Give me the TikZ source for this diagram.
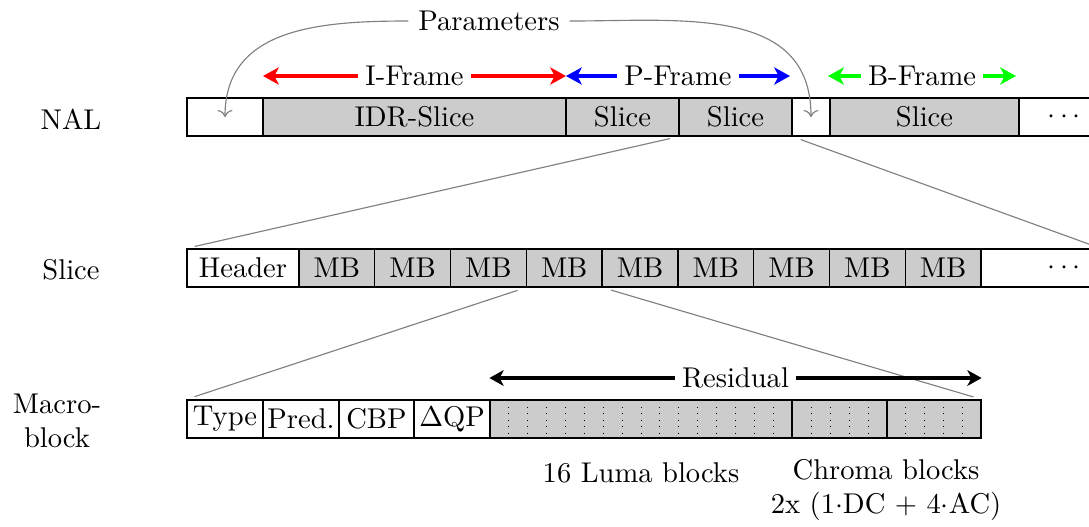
\documentclass[tikz,border=0pt]{standalone}
\usetikzlibrary{arrows.meta}
\definecolor{cellgray}{HTML}{CCCCCC}
\definecolor{bgreen}{HTML}{00FF00}
\newcommand\mycell[6]{\node[#5, minimum width={(#3-#2)*0.35pt}] (#1) at ({(#2+#3)/2},#4) {#6};}
\begin{document}
\begin{tikzpicture}[x=0.35pt,y=-0.35pt,
  cell/.style={draw=black, line width=0.45pt, inner sep=0pt, minimum height={38*0.35pt}},
  full/.style={cell, fill=cellgray},
  empty/.style={cell, fill=white},
  zoomline/.style={draw=gray, line width=0.4pt, shorten <=3pt, shorten >=3pt},
  paramarrow/.style={draw=gray, line width=0.4pt, ->},
  framearrow/.style={line width=1.5pt, {Stealth[length=5.5pt,width=6pt,inset=1.5pt]}-{Stealth[length=5.5pt,width=6pt,inset=1.5pt]}},
  resarrow/.style={line width=1.2pt, {Stealth[length=5pt,width=5.5pt,inset=1.4pt]}-{Stealth[length=5pt,width=5.5pt,inset=1.4pt]}},
  lbl/.style={fill=white, text=black, inner sep=2.5pt},
  div/.style={draw=black, line width=0.3pt, dotted},
  solid div/.style={draw=black, line width=0.45pt},
  rowlabel/.style={align=center},
]
\useasboundingbox (0,0) rectangle (1089,526);
\clip (0,0) rectangle (1089,526);

% row labels
\node[rowlabel] (lnal) at (71,119) {NAL};
\node[rowlabel] (lslice) at (71,270) {Slice};
\node[rowlabel] (lmb) at (57,421) {Macro-\\block};

% NAL row
\mycell{nal0}{187}{263}{117}{empty}{}
\mycell{idr}{263}{566}{117}{full}{IDR-Slice}
\mycell{ps1}{566}{679}{117}{full}{Slice}
\mycell{ps2}{679}{792}{117}{full}{Slice}
\mycell{nal4}{792}{830}{117}{empty}{}
\mycell{bs}{830}{1019}{117}{full}{Slice}
\mycell{naldots}{1019}{1100}{117}{empty}{}
\node (naldotstext) at (1064,117) {$\cdots$};

% frame arrows
\draw[framearrow, red] (263,76) -- node[lbl] (iframe) {I-Frame} (566,76);
\draw[framearrow, blue] (566,76) -- node[lbl] (pframe) {P-Frame} (790,76);
\draw[framearrow, bgreen] (828,76) -- node[lbl] (bframe) {B-Frame} (1016,76);

% parameters
\node (params) at (489,21) {Parameters};
\draw[paramarrow] (params.west) to[out=180,in=90,looseness=1.1] (nal0.center);
\draw[paramarrow] (params.east) to[out=0,in=90,looseness=1.1] (nal4.center);

% Slice row
\mycell{header}{187}{299}{268}{empty}{Header}
\foreach \k in {1,...,9}{
  \pgfmathsetmacro\xa{299+(\k-1)*75.78}
  \pgfmathsetmacro\xb{299+\k*75.78}
  \mycell{mb\k}{\xa}{\xb}{268}{full}{MB}
}
\mycell{slicedots}{981}{1100}{268}{empty}{}
\node (slicedotstext) at (1064,268) {$\cdots$};

% zoom lines NAL -> Slice
\draw[zoomline] (ps2.south west) -- (header.north west);
\draw[zoomline] (ps2.south east) -- (slicedots.north east);

% Macroblock row
\mycell{type}{187}{263}{419}{empty}{Type}
\mycell{pred}{263}{339}{419}{empty}{Pred.}
\mycell{cbp}{339}{414}{419}{empty}{CBP}
\mycell{dqp}{414}{490}{419}{empty}{$\Delta$QP}
\mycell{luma}{490}{792}{419}{full}{}
\mycell{cb}{792}{887}{419}{full}{}
\mycell{cr}{887}{981}{419}{full}{}
\foreach \i in {1,...,15}{
  \draw[div] ({490+\i*18.875},400) -- ({490+\i*18.875},438);
}
\foreach \i in {1,...,4}{
  \draw[div] ({792+\i*19},400) -- ({792+\i*19},438);
  \draw[div] ({887+\i*18.8},400) -- ({887+\i*18.8},438);
}
\draw[solid div] (cb.north west) -- (cb.south west);
\draw[solid div] (cr.north west) -- (cr.south west);

% zoom lines Slice -> Macroblock
\draw[zoomline] (mb4.south west) -- (type.north west);
\draw[zoomline] (mb4.south east) -- (cr.north east);

% residual arrow
\draw[resarrow] (luma.west |- 0,378) -- node[lbl] (residual) {Residual} (cr.east |- 0,378);

% bottom labels
\node (lumalbl) at (641,473) {16 Luma blocks};
\node[align=center] (chromalbl) at (886,490) {Chroma blocks\\2x (1{$\cdot$}DC + 4{$\cdot$}AC)};
\end{tikzpicture}
\end{document}
